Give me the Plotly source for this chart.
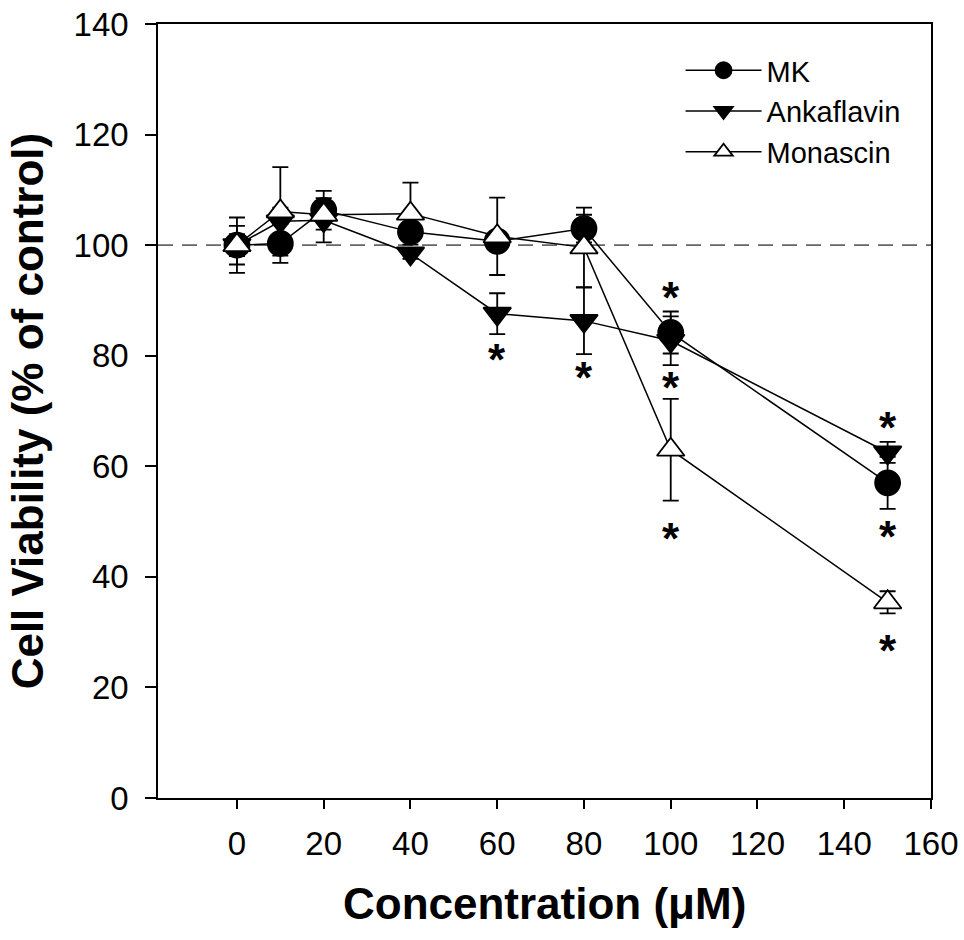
import plotly.graph_objects as go

# ---- data ----
conc = [0, 10, 20, 40, 60, 80, 100, 150]

mk = [100.0, 100.3, 106.3, 102.4, 100.7, 103.0, 84.2, 57.0]
mk_err = [5.0, 3.5, 3.5, 1.0, 1.0, 2.5, 3.8, 4.7]

ank = [100.0, 104.3, 104.5, 98.5, 87.6, 86.3, 82.7, 62.5]
ank_err = [3.5, 2.5, 4.0, 1.0, 3.7, 6.0, 4.4, 1.9]

mon = [100.0, 106.1, 105.5, 105.7, 101.6, 99.6, 63.0, 35.4]
mon_err = [2.0, 8.0, 1.0, 5.6, 7.0, 7.2, 9.2, 2.0]

series_names = ["MK", "Ankaflavin", "Monascin"]

# significance markers (*)
ast_x = [60, 80, 100, 100, 100, 150, 150, 150]
ast_y = [80.0, 76.7, 91.2, 74.9, 47.5, 67.7, 48.0, 27.3]

x_ticks = [0, 20, 40, 60, 80, 100, 120, 140, 160]
y_ticks = [0, 20, 40, 60, 80, 100, 120, 140]
control_level = 100

FONT = "Arial, Liberation Sans, Helvetica, sans-serif"

fig = go.Figure()


def add_series(name, y, err, symbol, fill, size):
    fig.add_trace(go.Scatter(
        x=conc, y=y, name=name, mode="lines+markers",
        line=dict(color="black", width=1.5),
        marker=dict(symbol=symbol, size=size, color=fill,
                    line=dict(color="black", width=1.8)),
        error_y=dict(type="data", array=err, visible=True,
                     color="black", thickness=1.8, width=8),
    ))


add_series(series_names[0], mk, mk_err, "circle", "black", 25)
add_series(series_names[1], ank, ank_err, "triangle-down", "black", 24)
add_series(series_names[2], mon, mon_err, "triangle-up", "white", 24)

# reference line at 100 %
fig.add_shape(type="line", xref="paper", x0=0, x1=1, yref="y",
              y0=control_level, y1=control_level,
              line=dict(color="#666666", width=1.8, dash="15px,9px"),
              layer="below")

annotations = []
for ax_, ay_ in zip(ast_x, ast_y):
    annotations.append(dict(x=ax_, y=ay_, xref="x", yref="y", text="*",
                            showarrow=False, yshift=-3.5,
                            font=dict(family=FONT, size=44, color="black",
                                      weight="bold")))

annotations.append(dict(text="<b>Concentration (μM)</b>", xref="paper",
                        yref="paper", x=0.5, y=-0.136, xanchor="center",
                        yanchor="middle", showarrow=False,
                        font=dict(family=FONT, size=44, color="black")))
annotations.append(dict(text="<b>Cell Viability (% of control)</b>",
                        xref="paper", yref="paper", x=-0.169, y=0.5,
                        xanchor="center", yanchor="middle", textangle=-90,
                        showarrow=False,
                        font=dict(family=FONT, size=44, color="black")))

fig.update_layout(
    width=964, height=940,
    margin=dict(l=158, r=33, t=24, b=142, autoexpand=False),
    paper_bgcolor="white", plot_bgcolor="white",
    font=dict(family=FONT, color="black"),
    showlegend=True,
    legend=dict(x=0.676, y=0.973, xanchor="left", yanchor="top",
                font=dict(family=FONT, size=29, color="black"),
                bgcolor="rgba(0,0,0,0)", borderwidth=0,
                itemwidth=76, tracegroupgap=0),
    annotations=annotations,
)

fig.update_xaxes(range=[-18.2, 160], tickvals=x_ticks,
                 ticktext=[str(v) for v in x_ticks], automargin=False,
                 showgrid=False, zeroline=False, showline=True,
                 linecolor="black", linewidth=1.5, mirror=True,
                 ticks="outside", ticklen=9, tickwidth=1.5, tickcolor="black",
                 tickfont=dict(family=FONT, size=33, color="black"),
                 ticklabelstandoff=7)
fig.update_yaxes(range=[0, 140], tickvals=y_ticks,
                 ticktext=[str(v) for v in y_ticks], automargin=False,
                 showgrid=False, zeroline=False, showline=True,
                 linecolor="black", linewidth=1.5, mirror=True,
                 ticks="outside", ticklen=11, tickwidth=1.5, tickcolor="black",
                 tickfont=dict(family=FONT, size=33, color="black"),
                 ticklabelstandoff=10)

fig.write_html("out.html")
